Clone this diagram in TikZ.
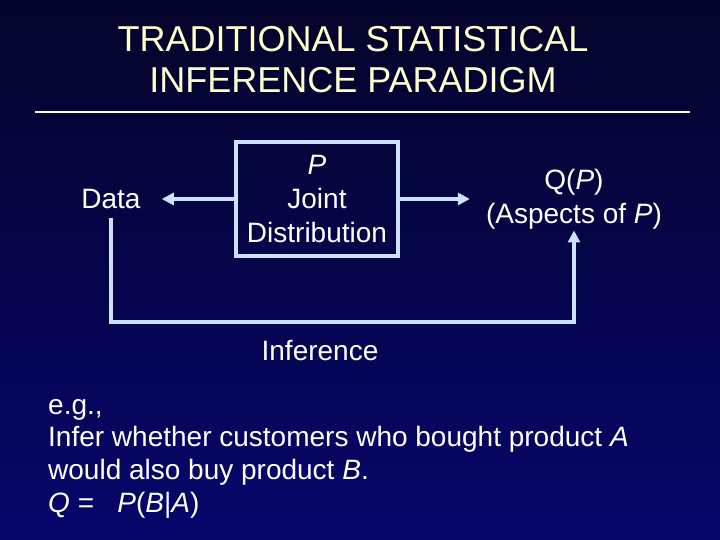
\documentclass[tikz,border=0pt]{standalone}
\usepackage{fontspec}
\setmainfont{Liberation Sans}
\usetikzlibrary{arrows.meta}
\definecolor{bgtop}{RGB}{4,4,42}
\definecolor{bgbot}{RGB}{6,6,108}
\definecolor{linec}{RGB}{204,224,255}
\definecolor{titlec}{RGB}{255,255,204}
\begin{document}
\begin{tikzpicture}[x=1pt,y=-1pt,
  conn/.style={draw=linec,line width=4.5pt},
  arr/.style={conn,-{Triangle[length=12pt,width=12pt]}},
  txt/.style={text=white,font=\fontsize{28}{34}\selectfont,align=center,inner sep=0pt},
  ttl/.style={text=titlec,font=\fontsize{36}{41}\selectfont,inner sep=0pt,anchor=base},
  body/.style={text=white,font=\fontsize{28}{33}\selectfont,inner sep=0pt,anchor=base west},
  boxst/.style={draw=linec,line width=4.5pt,minimum width=162pt,minimum height=114pt,inner sep=0pt}
]
\shade[top color=bgtop,bottom color=bgbot] (0,0) rectangle (720,540);
\useasboundingbox (0,0) rectangle (720,540);

% title
\node[ttl] (t1) at (353,52) {TRADITIONAL STATISTICAL};
\node[ttl] (t2) at (353,93) {INFERENCE PARADIGM};
\coordinate (rl) at (35,112);
\coordinate (rr) at (690,112);
\draw[white,line width=2pt] (rl) -- (rr);

% diagram
\node[boxst,txt] (box) at (317,199) {\textit{P}\\Joint\\Distribution};
\node[txt,anchor=base] (data) at (111,209) {Data};
\node[txt,anchor=north] (qp) at (574,169) {Q(\textit{P})\\(Aspects of \textit{P})};
\coordinate (fbl) at (111,322);

\draw[arr,shorten >=21pt] (box.west |- 0,199) -- (data.east |- 0,199);
\draw[arr,shorten >=16pt] (box.east |- 0,199) -- (qp.west |- 0,199);
\draw[arr,shorten <=9pt,shorten >=1pt] (data.south) -- (fbl) -| (qp.south);

\node[txt,anchor=base] (inf) at (320,360) {Inference};

% example text
\node[body] (e1) at (48,414) {e.g.,};
\node[body] (e2) at (48,446) {Infer whether customers who bought product \textit{A}};
\node[body] (e3) at (48,479) {would also buy product \textit{B}.};
\node[body] (e4) at (48,512) {\textit{Q} =\ \ \ \textit{P}(\textit{B}|\textit{A})};
\end{tikzpicture}
\end{document}
